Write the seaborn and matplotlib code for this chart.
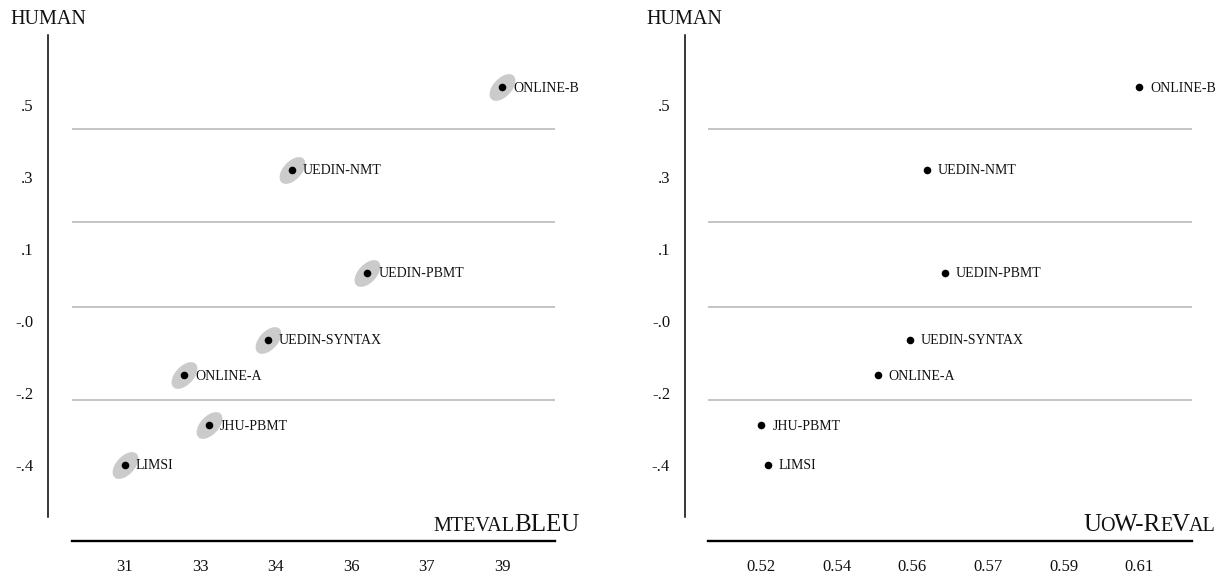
import numpy as np
import pandas as pd
import matplotlib
matplotlib.use("Agg")
import matplotlib.pyplot as plt
import seaborn as sns
from matplotlib.path import Path
from matplotlib.markers import MarkerStyle

# ---------------- data ----------------
systems = ["ONLINE-B", "UEDIN-NMT", "UEDIN-PBMT", "UEDIN-SYNTAX",
           "ONLINE-A", "JHU-PBMT", "LIMSI"]
human = [0.544, 0.338, 0.081, -0.087, -0.175, -0.300, -0.400]
bleu = [39.00, 34.54, 36.14, 34.04, 32.26, 32.78, 31.00]
reval = [0.6100, 0.5595, 0.5637, 0.5554, 0.5477, 0.5200, 0.5215]

cluster_bounds = [0.440, 0.2075, -0.004, -0.2375]

human_ticks = [-0.40, -0.22, -0.04, 0.14, 0.32, 0.50]
human_ticklabels = ["-.4", "-.2", "-.0", ".1", ".3", ".5"]
bleu_ticks = [31.0, 32.6, 34.2, 35.8, 37.4, 39.0]
bleu_ticklabels = ["31", "33", "34", "36", "37", "39"]
reval_ticks = [0.520, 0.538, 0.556, 0.574, 0.592, 0.610]
reval_ticklabels = ["0.52", "0.54", "0.56", "0.57", "0.59", "0.61"]

y_label = "HUMAN"
bleu_label_parts = [("MTEVAL", "small"), ("BLEU", "big")]
reval_label_parts = [("U", "big"), ("O", "small"), ("W-R", "big"),
                     ("E", "small"), ("V", "big"), ("AL", "small")]

# ---------------- style ----------------
sns.set_style("white")
plt.rcParams["font.family"] = ["Liberation Serif", "DejaVu Serif"]

DPI = 100
W, H = 1222, 576
fig = plt.figure(figsize=(W / DPI, H / DPI), dpi=DPI)

PX = 72.0 / DPI  # points per pixel

ax_top_px, ax_bot_px = 35.0, 517.3
axes_px = [(71.7, 555.0), (708.3, 1192.0)]

df = pd.DataFrame({"system": systems, "human": human,
                   "bleu": bleu, "reval": reval})

# tilted ellipse marker (confidence region)
t = np.linspace(0, 2 * np.pi, 120)
ang = np.deg2rad(47)
a_, b_ = 1.0, 0.57
ex = a_ * np.cos(t) * np.cos(ang) - b_ * np.sin(t) * np.sin(ang)
ey = a_ * np.cos(t) * np.sin(ang) + b_ * np.sin(t) * np.cos(ang)
ellipse_marker = MarkerStyle(Path(np.column_stack([ex, ey]), closed=True))

SMALL, BIG = 14.5, 18.0
ELL_COLOR = "#cbcbcb"
LINE_COLOR = "#b4b4b4"


def add_label_parts(ax, parts):
    prev = None
    for txt, size in reversed(parts):
        fs = SMALL if size == "small" else BIG
        if prev is None:
            prev = ax.annotate(txt, xy=(1, 0), xycoords="axes fraction",
                               xytext=(24 * PX, -13.7 * PX),
                               textcoords="offset points",
                               ha="right", va="baseline", fontsize=fs,
                               color="#111111", annotation_clip=False)
        else:
            prev = ax.annotate(txt, xy=(0, 0),
                               xycoords=(prev, "axes fraction"),
                               xytext=(0.6, -13.7 * PX),
                               textcoords="offset points",
                               ha="right", va="baseline", fontsize=fs,
                               color="#111111", annotation_clip=False)


panels = [
    ("bleu", bleu_ticks, bleu_ticklabels, bleu_label_parts, True),
    ("reval", reval_ticks, reval_ticklabels, reval_label_parts, False),
]

for (xcol, xt, xtl, lparts, with_ell), (xl, xr) in zip(panels, axes_px):
    ax = fig.add_axes([xl / W, 1 - ax_bot_px / H,
                       (xr - xl) / W, (ax_bot_px - ax_top_px) / H])
    ax.set_facecolor("white")

    for yb in cluster_bounds:
        ax.axhline(yb, color=LINE_COLOR, lw=1.1, zorder=1)

    if with_ell:
        sns.scatterplot(data=df, x=xcol, y="human", ax=ax,
                        marker=ellipse_marker, s=370, color=ELL_COLOR,
                        linewidth=0, zorder=2, legend=False)
    sns.scatterplot(data=df, x=xcol, y="human", ax=ax, marker="o",
                    s=30, color="black", linewidth=0, zorder=3,
                    legend=False)

    for _, r in df.iterrows():
        ax.annotate(r["system"], xy=(r[xcol], r["human"]),
                    xytext=(8.0, -3.3), textcoords="offset points",
                    ha="left", va="baseline", fontsize=10.0,
                    color="#111111", annotation_clip=False)

    span = xt[-1] - xt[0]
    ax.set_xlim(xt[0] - 0.14 * span, xt[-1] + 0.14 * span)
    ax.set_ylim(-0.531, 0.675)
    ax.set_xticks(xt)
    ax.set_xticklabels(xtl)
    ax.set_yticks(human_ticks)
    ax.set_yticklabels(human_ticklabels)
    ax.set_xlabel("")
    ax.set_ylabel("")

    for s in ["top", "right"]:
        ax.spines[s].set_visible(False)
    ax.spines["left"].set_position(("outward", 23.5 * PX))
    ax.spines["bottom"].set_position(("outward", 24 * PX))
    ax.spines["left"].set_linewidth(1.1)
    ax.spines["bottom"].set_linewidth(1.7)
    ax.spines["left"].set_color("black")
    ax.spines["bottom"].set_color("black")

    ax.tick_params(axis="x", direction="inout", length=10.8, width=1.0,
                   pad=7.5, labelsize=12, colors="black")
    ax.tick_params(axis="y", direction="inout", length=9.2, width=1.0,
                   pad=6, labelsize=12, colors="black")
    for lab in ax.get_xticklabels() + ax.get_yticklabels():
        lab.set_color("#111111")

    ax.annotate(y_label, xy=(0, 1), xycoords="axes fraction",
                xytext=(-61.5 * PX, 11 * PX), textcoords="offset points",
                ha="left", va="baseline", fontsize=SMALL, color="#111111",
                annotation_clip=False)

    add_label_parts(ax, lparts)

fig.savefig("out.png", dpi=DPI, facecolor="white")
